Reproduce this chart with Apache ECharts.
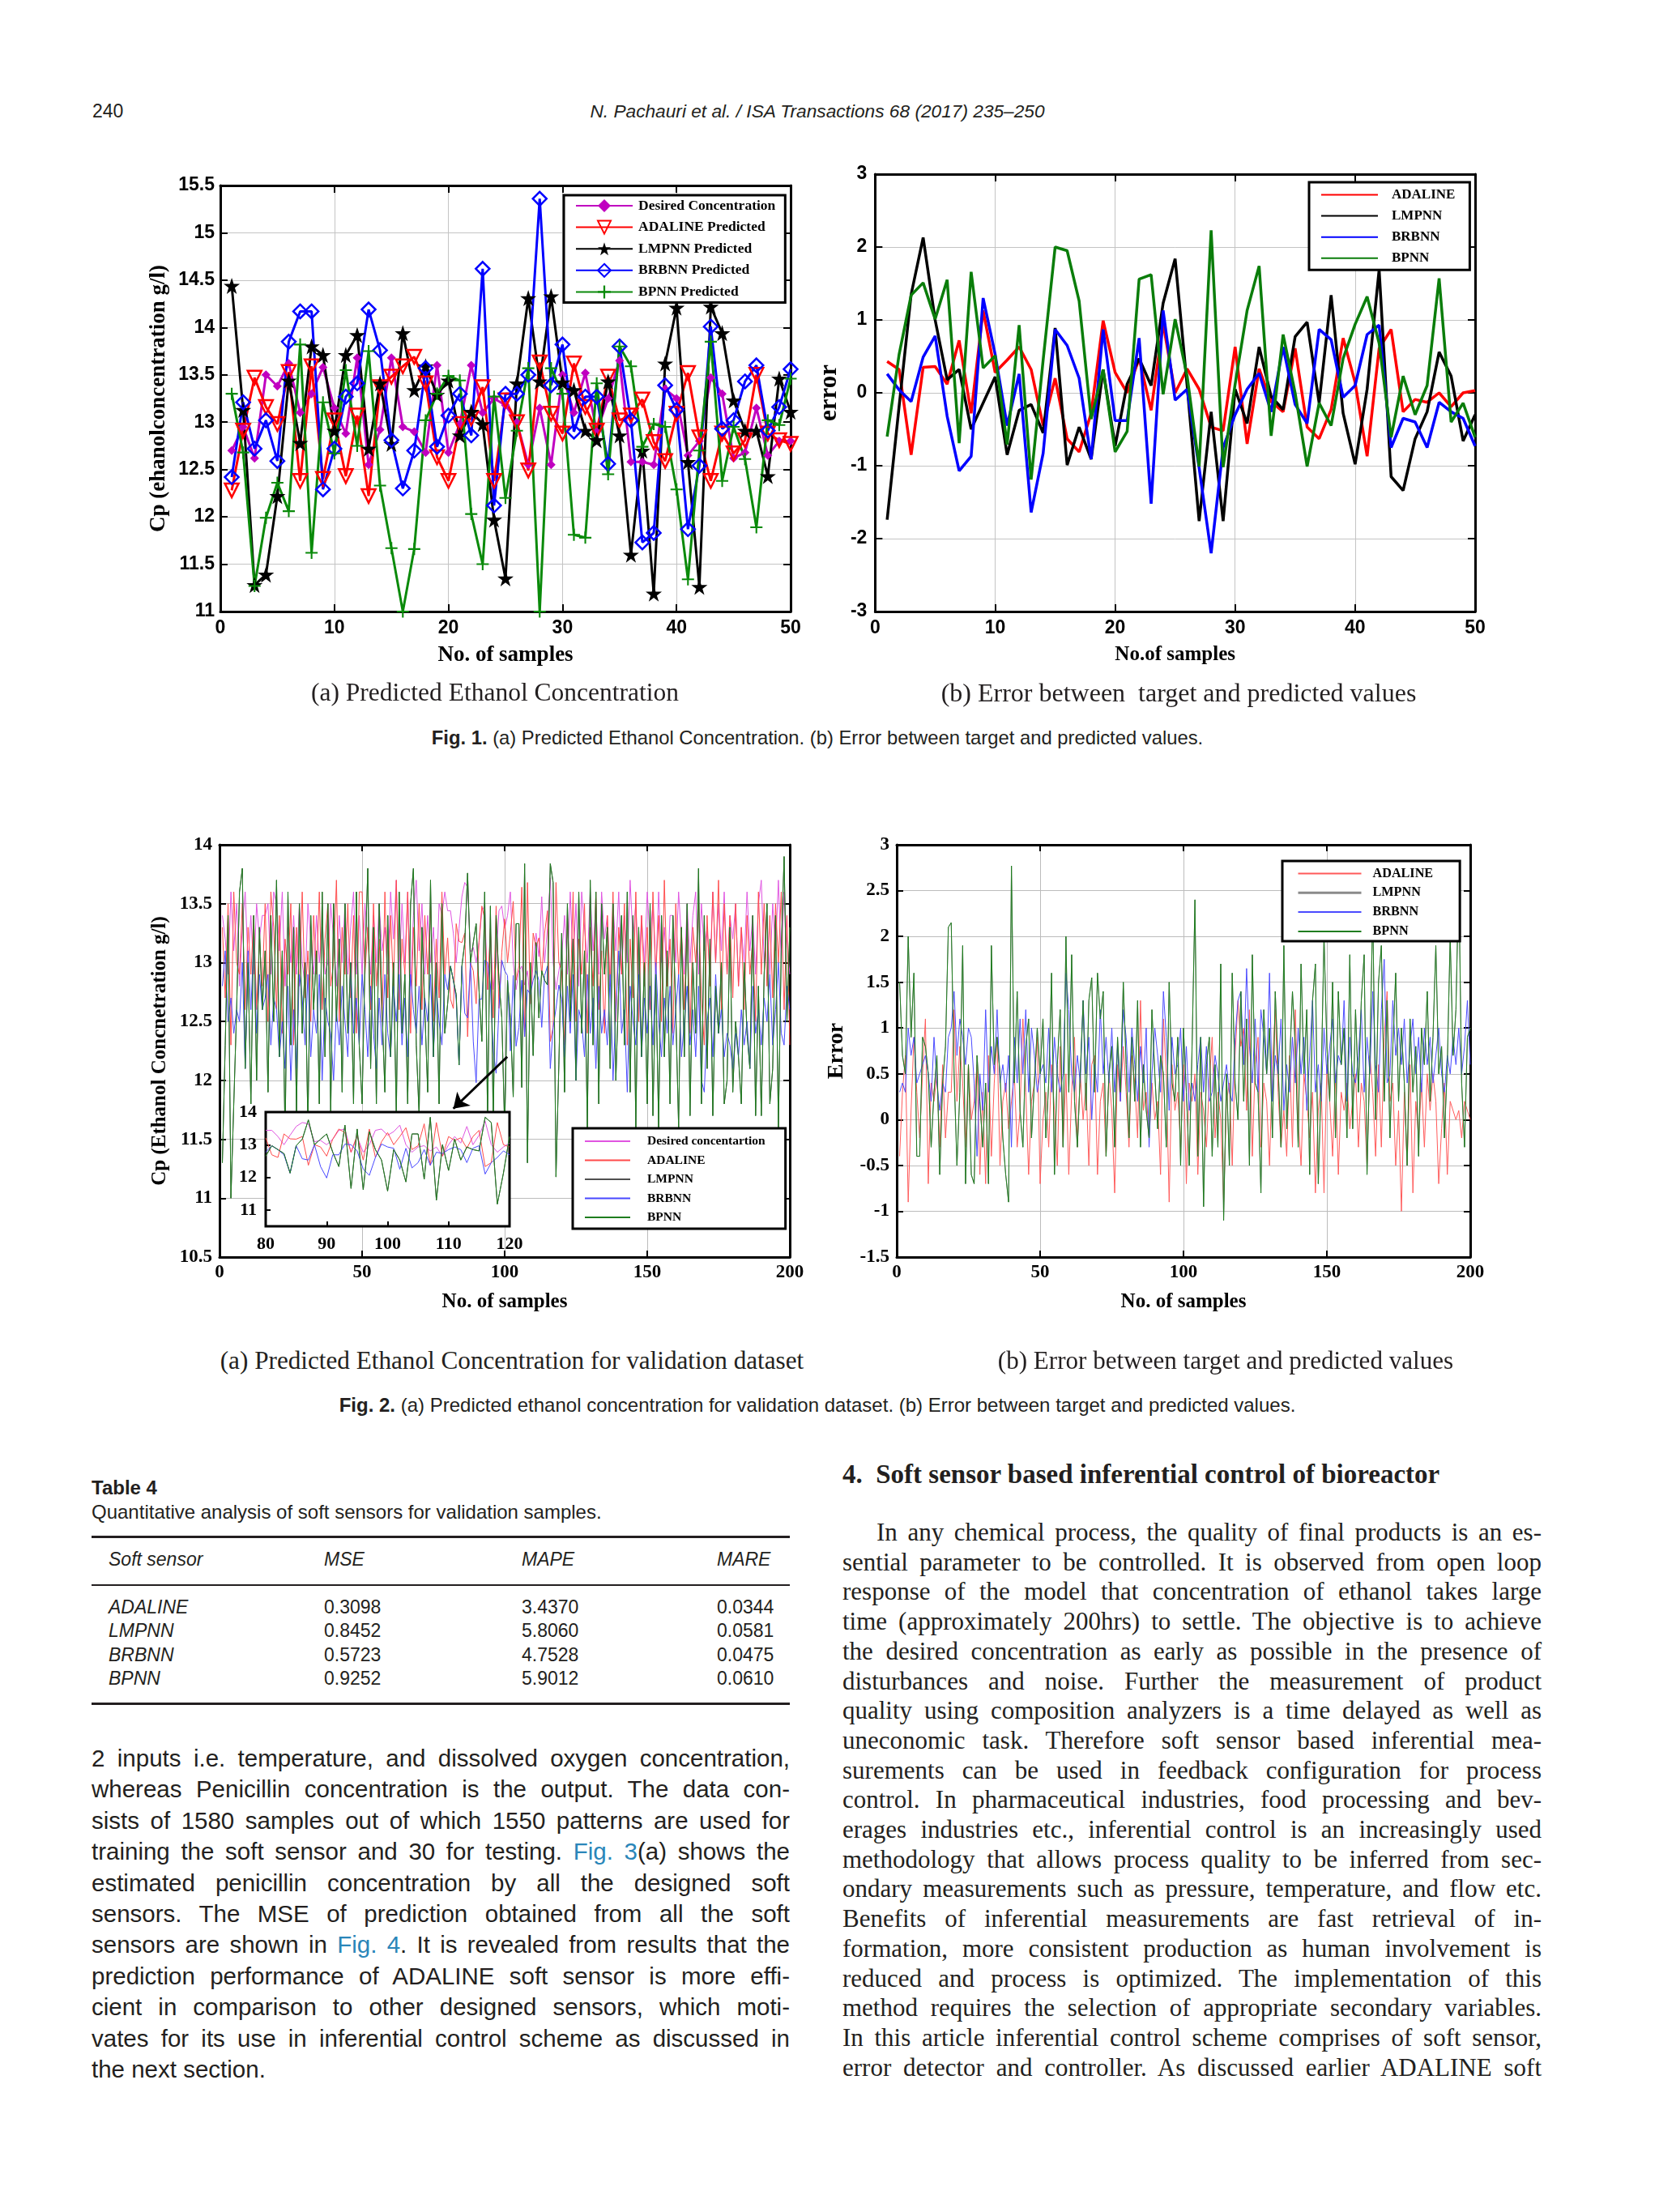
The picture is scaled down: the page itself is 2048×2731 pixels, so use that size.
<!DOCTYPE html>
<html><head><meta charset="utf-8">
<script src="https://cdn.jsdelivr.net/npm/echarts@6/dist/echarts.min.js"></script>
<style>
html,body{margin:0;padding:0;background:#fff;}
body{width:2048px;height:2731px;position:relative;overflow:hidden;color:#231f20;}
.chart{position:absolute;}
.t{position:absolute;white-space:nowrap;}
.sans{font-family:"Liberation Sans",Arial,Helvetica,sans-serif;}
.serif{font-family:"Liberation Serif","Times New Roman",Times,serif;}
.jl{position:absolute;text-align:justify;text-align-last:justify;}
.rule{position:absolute;left:113px;width:862px;background:#231f20;}
a{color:#2a86b9;text-decoration:none;}
</style></head><body>

<div class="t sans" style="left:114px;top:124px;font-size:23px;line-height:26px;">240</div>
<div class="t sans" style="left:0;width:2018px;text-align:center;top:124px;font-size:22.7px;line-height:26px;font-style:italic;">N. Pachauri et al. / ISA Transactions 68 (2017) 235–250</div>

<div id="c1a" class="chart" style="left:150px;top:190px;width:860px;height:660px"></div>
<div id="c1b" class="chart" style="left:1000px;top:190px;width:880px;height:660px"></div>

<div class="t serif" style="left:311px;width:600px;text-align:center;top:836px;font-size:31.5px;line-height:38px;">(a) Predicted Ethanol Concentration</div>
<div class="t serif" style="left:1105px;width:700px;text-align:center;top:836px;font-size:32px;line-height:38px;">(b) Error between&nbsp; target and predicted values</div>
<div class="t sans" style="left:309px;width:1400px;text-align:center;top:896px;font-size:23.8px;line-height:30px;"><b>Fig. 1.</b> (a) Predicted Ethanol Concentration. (b) Error between target and predicted values.</div>

<div id="c2a" class="chart" style="left:150px;top:1020px;width:860px;height:640px"></div>
<div id="c2ai" class="chart" style="left:280px;top:1357px;width:370px;height:210px"></div>
<div id="c2b" class="chart" style="left:1000px;top:1020px;width:880px;height:640px"></div>

<div class="t serif" style="left:232px;width:800px;text-align:center;top:1661px;font-size:31.2px;line-height:38px;">(a) Predicted Ethanol Concentration for validation dataset</div>
<div class="t serif" style="left:1163px;width:700px;text-align:center;top:1661px;font-size:31.1px;line-height:38px;">(b) Error between target and predicted values</div>
<div class="t sans" style="left:259px;width:1500px;text-align:center;top:1720px;font-size:24px;line-height:30px;"><b>Fig. 2.</b> (a) Predicted ethanol concentration for validation dataset. (b) Error between target and predicted values.</div>

<div class="t sans" style="left:113px;top:1823px;font-size:24px;line-height:28px;font-weight:bold;">Table 4</div>
<div class="t sans" style="left:113px;top:1853px;font-size:24px;line-height:28px;">Quantitative analysis of soft sensors for validation samples.</div>
<div class="rule" style="top:1896px;height:3px;"></div>
<div class="rule" style="top:1956px;height:2px;"></div>
<div class="rule" style="top:2102px;height:3px;"></div>
<div id="tbl"></div>

<div id="leftcol"></div>
<div class="t serif" style="left:1040px;top:1800px;font-size:33px;line-height:40px;font-weight:bold;">4.&nbsp; Soft sensor based inferential control of bioreactor</div>
<div id="rightcol"></div>

<script>
// ---------------- Table 4 ----------------
const tableHeader = ['Soft sensor', 'MSE', 'MAPE', 'MARE'];
const tableSensors = ['ADALINE', 'LMPNN', 'BRBNN', 'BPNN'];
const tableMSE  = ['0.3098', '0.8452', '0.5723', '0.9252'];
const tableMAPE = ['3.4370', '5.8060', '4.7528', '5.9012'];
const tableMARE = ['0.0344', '0.0581', '0.0475', '0.0610'];

// ---------------- Fig. 1 (50 samples) ----------------
const fig1Names = ['Desired Concentration', 'ADALINE Predicted', 'LMPNN Predicted', 'BRBNN Predicted', 'BPNN Predicted'];
const desired1 = [12.70,12.95,12.62,13.50,13.38,13.62,13.10,13.30,13.58,13.15,
  12.88,13.68,12.55,12.92,13.68,12.95,12.90,12.68,13.60,12.68,
  12.98,13.60,13.10,13.25,13.18,13.00,12.55,13.15,12.55,13.50,
  13.10,13.52,12.90,13.25,13.65,12.58,12.58,12.55,13.35,13.25,
  12.65,12.80,13.47,13.30,12.62,12.68,13.15,12.65,12.80,12.80];
const adaline1 = [12.28,12.91,13.47,13.16,12.98,13.53,12.38,13.59,12.40,13.02,
  12.43,13.07,12.22,13.37,13.48,13.59,13.69,13.41,12.63,12.38,
  12.98,13.04,13.37,12.38,13.23,13.00,12.49,13.63,13.09,12.88,
  13.62,13.16,12.91,13.48,13.02,13.07,13.24,12.79,12.59,13.09,
  13.52,12.84,12.38,12.88,12.67,12.81,13.50,12.88,12.81,12.77];
const lmpnn1 = [14.44,13.13,11.28,11.39,12.22,13.44,12.78,13.80,13.71,12.91,
  13.71,13.92,12.72,13.41,12.77,13.94,13.34,13.59,13.29,13.44,
  12.86,13.11,12.98,11.97,11.35,13.41,14.31,13.43,14.33,13.42,
  13.34,12.91,12.81,13.43,12.86,11.60,12.70,11.19,13.62,14.21,
  12.58,11.26,14.22,13.94,13.23,12.91,12.91,12.43,13.46,13.11];
const brbnn1 = [12.42,13.21,12.72,13.02,12.59,13.85,14.17,14.17,12.29,12.72,
  13.27,13.41,14.19,13.76,12.81,12.30,12.70,13.57,12.74,13.07,
  13.30,12.86,14.62,12.12,13.30,13.30,13.50,15.36,13.39,13.82,
  12.90,13.27,13.27,12.56,13.80,13.02,11.73,11.83,13.39,13.13,
  11.87,12.54,14.01,12.93,13.02,13.43,13.60,12.91,13.16,13.56];
const bpnn1 = [13.30,12.68,11.27,11.99,12.36,12.06,13.82,11.62,13.21,12.67,
  13.55,12.75,13.75,12.33,11.67,11.00,11.66,13.02,13.30,13.49,
  13.44,12.03,11.50,13.27,12.20,12.91,13.57,11.00,13.57,13.30,
  11.81,11.78,13.41,12.45,13.80,13.59,12.74,12.98,12.95,12.29,
  11.34,12.70,13.85,12.38,12.95,12.61,11.89,13.02,12.97,13.46];

const fig1bNames = ['ADALINE', 'LMPNN', 'BRBNN', 'BPNN'];
const errAdaline1 = [0.43,0.32,-0.85,0.35,0.36,0.12,0.72,-0.28,1.13,0.28,
  0.45,0.63,0.32,-0.45,0.20,-0.63,-0.81,-0.28,0.99,0.28,
  0.00,0.47,-0.24,0.95,0.00,0.33,0.05,-0.47,-0.52,0.63,
  -0.70,0.33,-0.12,-0.26,0.61,-0.47,-0.63,-0.23,0.75,0.14,
  -0.87,0.61,0.87,-0.26,-0.09,-0.13,0.00,-0.19,0.00,0.03];
const errLmpnn1 = [-1.74,-0.18,1.35,2.13,1.00,0.18,0.32,-0.50,-0.14,0.22,
  -0.85,-0.24,-0.16,-0.55,0.89,-0.99,-0.47,-0.91,0.32,-0.73,
  0.12,0.47,0.10,1.23,1.84,0.10,-1.76,-0.26,-1.76,0.05,
  -0.42,0.63,-0.05,-0.23,0.77,0.97,-0.14,1.34,-0.28,-0.98,
  0.05,1.69,-1.15,-1.34,-0.63,-0.26,0.56,0.23,-0.66,-0.30];
const errBrbnn1 = [0.26,0.04,-0.12,0.49,0.78,-0.32,-1.07,-0.87,1.30,0.53,
  -0.45,0.26,-1.64,-0.83,0.87,0.65,0.20,-0.91,0.87,-0.38,
  -0.38,0.75,-1.52,1.13,-0.10,0.05,-1.03,-2.20,-0.75,-0.30,
  0.05,0.27,-0.26,0.63,-0.16,-0.42,0.87,0.73,-0.06,0.10,
  0.80,0.93,-0.75,-0.35,-0.40,-0.75,-0.13,-0.26,-0.35,-0.73];
const errBpnn1 = [-0.60,0.53,1.34,1.51,1.01,1.55,-0.69,1.66,0.34,0.51,
  -0.71,0.93,-1.19,0.45,2.00,1.95,1.26,-0.36,0.32,-0.81,
  -0.53,1.56,1.62,-0.02,1.01,0.23,-1.01,2.23,-1.02,0.12,
  1.13,1.74,-0.59,0.80,0.00,-1.01,-0.14,-0.45,0.47,0.94,
  1.32,0.68,-0.61,0.23,-0.30,0.10,1.57,-0.40,-0.14,-0.61];

// ---------------- Fig. 2 (200 validation samples) ----------------
const fig2aNames = ['Desired concentartion', 'ADALINE', 'LMPNN', 'BRBNN', 'BPNN'];
const desired2 = [13.4,13.2,12.9,13.6,13.1,13.5,12.8,13.3,13.6,13.0,
  13.4,12.9,13.5,13.2,13.4,13.4,13.5,12.9,13.6,13.5,
  13.1,13.6,12.8,13.3,13.0,13.4,12.9,13.5,13.0,12.8,
  13.5,13.2,12.9,13.4,13.0,13.3,12.9,13.0,13.5,13.2,
  12.8,13.4,13.0,13.5,12.9,13.3,13.6,12.9,13.4,12.9,
  13.5,13.2,12.9,13.4,13.0,13.5,13.1,13.3,12.9,13.6,
  13.2,13.7,12.9,13.5,13.0,13.6,12.8,13.4,13.7,13.1,
  13.5,12.9,13.4,13.0,13.3,12.8,13.5,13.4,13.6,
  13.44,13.44,13.25,13.00,13.29,13.56,13.68,13.64,13.09,13.13,
  13.00,13.17,13.44,13.48,12.77,13.25,12.77,13.00,13.44,13.48,
  13.29,13.40,13.60,13.00,12.77,12.93,12.97,12.81,12.93,12.65,
  13.00,13.25,13.05,13.56,13.00,13.29,13.72,13.00,12.77,12.93,
  13.05,
  13.4,12.9,13.6,13.0,13.5,12.8,13.6,13.3,13.0,13.6,
  13.1,13.5,12.9,13.6,13.2,13.4,12.8,13.5,13.1,13.6,
  12.9,13.4,13.0,13.7,13.2,13.5,12.9,13.4,13.0,13.6,
  13.2,13.5,12.9,13.6,13.0,13.3,12.8,13.4,13.4,13.0,
  13.6,13.2,12.9,13.5,13.0,13.4,13.6,12.9,13.5,13.1,
  13.3,12.9,13.6,13.0,13.5,13.1,13.6,12.9,13.4,13.2,
  13.5,12.8,13.3,13.0,13.6,13.1,13.4,12.9,13.5,13.7,
  13.0,13.4,12.9,13.5,13.1,13.7,13.0,13.6,13.2,12.9];
const adaline2 = [13.3,12.7,13.5,12.3,13.6,13.0,12.9,13.5,12.6,13.3,
  12.9,13.4,12.6,13.2,12.8,13.5,12.5,13.6,13.3,12.6,
  13.4,12.4,13.2,12.9,13.5,12.3,13.3,12.8,13.6,12.7,
  13.1,12.5,13.4,12.9,13.6,12.6,13.2,13.5,12.8,13.0,
  13.7,12.5,13.3,12.9,13.5,12.7,13.4,12.4,13.6,13.6,
  12.9,13.3,12.6,13.5,12.8,13.2,12.5,13.6,12.7,13.4,
  12.8,13.7,12.6,13.2,12.9,13.6,12.4,13.3,12.8,13.5,
  12.6,13.4,12.9,13.5,12.5,13.2,12.7,13.6,12.9,
  13.21,12.69,12.61,13.33,13.18,13.17,13.25,12.37,13.00,12.93,
  12.65,13.17,13.48,13.37,12.77,13.29,12.53,13.48,12.61,13.09,
  13.37,13.00,13.25,13.52,12.85,12.97,13.64,12.37,13.68,12.65,
  13.25,13.13,13.21,12.89,13.25,13.44,12.33,12.45,13.68,13.00,
  12.93,
  12.3,13.4,12.7,13.6,12.5,13.2,12.9,13.5,12.4,13.3,
  12.8,13.6,12.6,13.1,12.4,13.4,12.8,13.6,12.5,13.3,
  12.9,13.5,12.3,13.2,12.7,13.6,12.5,13.4,12.8,13.3,
  12.6,13.6,12.9,13.4,12.5,13.7,12.8,13.2,12.4,13.5,
  12.9,13.3,12.6,13.4,12.4,13.3,13.0,13.5,12.7,12.3,
  13.4,12.8,13.6,13.0,13.7,12.6,13.5,12.9,13.4,12.7,
  13.5,12.8,13.3,12.6,13.4,12.9,13.2,12.5,13.6,12.9,
  13.5,12.8,13.4,12.7,13.5,13.0,13.6,12.6,13.4,12.3];
const brbnn2 = [12.8,13.1,12.5,12.7,12.4,12.6,12.5,13.0,12.1,13.1,
  12.6,13.2,12.4,12.9,12.6,12.7,12.9,12.3,12.7,12.6,
  12.2,12.5,12.1,12.8,12.0,12.6,12.1,12.9,12.7,12.3,
  12.9,12.2,12.6,12.4,12.9,12.0,12.7,12.5,12.4,12.0,
  12.6,12.3,12.8,12.5,12.2,13.0,12.4,12.7,12.3,12.9,
  12.6,12.2,12.8,12.4,12.1,12.7,12.3,12.9,12.4,12.2,
  12.8,12.5,12.9,12.3,12.7,12.2,12.9,12.6,12.4,12.8,
  12.3,12.7,12.5,12.9,12.2,12.8,12.5,12.3,12.9,
  12.77,12.97,12.85,12.69,12.13,12.97,12.57,12.53,13.00,12.33,
  11.98,12.69,12.69,13.02,13.00,12.81,12.25,12.06,12.61,13.02,
  12.93,12.89,12.25,12.89,12.29,12.45,12.85,12.37,12.77,12.73,
  12.85,12.93,12.85,12.45,12.89,12.97,12.10,12.45,12.61,12.81,
  12.69,
  12.2,12.8,12.4,12.9,12.0,12.6,12.5,12.2,12.9,12.4,
  12.7,12.1,12.8,12.4,12.6,12.3,12.9,12.0,12.6,13.1,
  12.4,12.6,11.9,12.8,12.5,12.3,12.9,12.2,12.7,12.4,
  12.8,12.3,13.0,12.5,12.2,12.7,12.4,12.8,12.3,12.6,
  12.9,12.2,12.5,12.8,12.3,12.6,12.2,12.8,12.0,11.9,
  12.5,12.7,12.2,12.9,12.4,12.6,12.2,12.4,12.3,12.1,
  12.4,12.2,12.6,12.3,12.5,12.1,12.8,12.4,12.6,12.3,
  12.7,12.5,12.9,12.3,12.6,13.0,12.4,12.3,12.8,12.6];
const bpnn2 = [11.3,12.3,13.4,11.0,11.8,12.6,13.6,13.8,12.1,13.0,
  11.8,13.4,12.0,13.3,12.6,13.1,11.9,13.4,12.5,13.7,
  12.2,13.1,11.5,13.6,12.3,13.3,11.7,13.5,12.4,13.0,
  11.6,13.4,12.6,13.1,11.8,13.6,12.2,13.5,11.7,13.5,
  12.5,13.2,11.9,13.5,12.4,13.0,11.8,13.6,12.3,11.8,
  13.0,13.8,12.1,13.3,11.8,13.5,12.6,11.9,13.4,12.2,
  13.0,11.7,13.6,12.4,12.9,11.8,13.5,13.8,12.3,11.7,
  13.3,12.6,11.9,13.7,12.2,13.0,11.8,13.5,12.4,
  12.65,12.97,12.85,12.73,12.13,12.97,13.17,13.76,13.00,13.17,
  13.33,12.77,12.33,13.60,11.66,13.48,11.62,13.40,12.85,12.53,
  11.58,12.85,12.53,11.86,13.33,13.33,11.94,13.84,11.30,13.00,
  12.21,13.17,12.53,12.93,12.85,12.81,13.84,13.68,11.18,12.13,
  13.25,
  11.9,13.5,12.5,13.2,12.0,13.6,12.4,13.1,11.6,13.7,
  12.3,13.6,11.8,13.5,12.9,13.3,12.1,13.5,12.0,12.8,
  13.4,12.3,13.6,11.9,13.4,11.6,13.3,12.2,13.0,11.8,
  13.5,11.7,12.9,11.6,13.4,12.2,13.1,11.8,13.4,12.6,
  11.6,13.3,12.2,13.5,11.7,13.0,12.4,13.8,11.8,13.4,
  12.1,13.2,11.7,12.8,12.4,13.0,11.8,12.0,13.3,11.9,
  12.5,12.2,11.8,13.0,12.4,12.1,13.4,11.7,12.8,11.7,
  12.9,13.5,11.8,12.1,13.4,11.6,13.1,13.9,12.5,13.3];
// In the figure the LMPNN trace lies under the BPNN trace and is not separately visible.
const lmpnn2 = bpnn2;

const fig2bNames = ['ADALINE', 'LMPNN', 'BRBNN', 'BPNN'];
const errAdaline2 = [-0.4,0.3,0.7,-0.9,0.1,0.9,0.3,-0.2,0.5,1.1,
  -0.7,0.4,0.2,0.5,-0.3,0.6,-0.2,0.3,0.3,1.2,
  0.2,0.8,0.4,-0.3,0.6,0.0,0.2,0.6,-0.6,0.3,
  -0.7,0.7,-0.4,0.4,0.9,-0.5,0.2,0.4,-0.1,0.2,
  0.5,-0.3,0.1,1.1,0.3,-0.6,0.2,0.4,0.9,-0.7,
  0.0,0.3,-0.3,0.6,0.1,-0.5,0.8,-0.3,0.5,-0.6,
  0.3,0.9,-0.3,0.5,0.0,0.4,-0.5,0.6,0.7,-0.6,
  0.2,0.4,-0.4,0.5,0.1,-0.8,0.6,0.2,0.8,0.3,
  -0.3,0.7,0.4,-0.2,1.3,0.1,0.3,-0.2,0.4,0.0,
  0.2,-0.6,1.1,0.5,-0.9,0.6,0.1,0.3,-0.3,0.6,
  -0.7,0.4,0.2,0.5,-0.6,0.3,0.1,-0.3,0.4,0.9,
  -0.2,0.3,0.0,-0.9,0.2,0.4,-0.5,0.7,1.3,0.8,
  1.0,0.1,1.2,-0.4,0.6,0.9,-0.3,0.4,0.2,-0.5,
  0.6,1.2,0.3,-0.3,0.1,-0.4,0.7,-0.3,1.2,0.0,
  -0.5,0.5,0.2,-0.2,0.3,-0.8,0.1,0.4,-0.8,0.6,
  0.2,-0.4,0.5,-0.6,0.3,0.1,0.4,-0.1,0.2,0.5,
  -0.3,0.4,0.2,-0.5,0.7,0.3,-0.4,0.6,-0.3,0.9,
  1.4,0.2,0.4,-0.5,0.1,-1.0,0.3,-0.5,0.6,-0.8,
  0.2,-0.2,0.4,-0.3,0.5,0.1,0.5,0.2,-0.7,-0.1,
  0.4,-0.6,0.2,0.1,0.0,0.1,-0.2,0.2,0.1,0.0];
const errBrbnn2 = [0.3,0.4,0.3,1.0,0.7,0.9,0.4,0.5,0.6,0.7,
  0.5,0.2,0.9,0.4,0.1,0.4,0.3,0.9,1.0,1.4,
  0.7,1.1,0.9,0.6,1.0,0.9,0.4,-0.4,0.5,0.1,
  1.2,0.3,0.8,0.5,1.2,0.4,0.6,0.3,0.7,-0.3,
  0.9,0.4,1.1,0.5,1.2,0.3,1.0,0.7,0.3,0.5,
  0.6,0.4,1.0,0.3,0.9,0.5,0.3,0.5,1.6,1.2,
  0.5,0.3,0.7,0.4,1.3,0.5,0.9,0.0,0.6,0.3,
  1.2,0.5,0.9,0.4,1.0,0.3,0.8,0.2,1.2,0.9,
  0.3,1.0,0.6,0.2,0.8,0.4,1.0,-0.3,0.5,1.0,
  0.7,0.3,1.4,0.9,0.1,0.9,0.5,0.6,1.0,0.2,
  0.8,0.1,0.4,0.2,0.6,0.9,0.3,0.8,0.2,0.3,
  0.7,0.5,0.2,0.4,0.6,0.3,0.2,0.9,1.3,1.4,
  0.6,1.65,0.8,0.4,1.1,0.3,1.2,0.9,0.5,1.6,
  0.2,0.7,0.5,1.1,0.1,0.6,0.3,0.9,0.4,1.0,
  0.5,0.9,0.1,0.7,1.3,0.3,0.6,0.2,1.0,0.5,
  0.8,1.1,0.4,0.7,0.6,1.3,0.2,0.9,0.5,0.4,
  0.7,1.2,0.3,0.9,0.5,1.4,0.6,0.3,1.2,1.75,
  0.4,0.5,1.3,0.7,1.0,0.6,1.1,0.4,0.8,1.1,
  0.5,0.9,0.3,1.0,0.6,0.9,0.4,0.7,1.0,0.5,
  0.3,0.7,0.5,0.9,0.6,1.0,0.5,0.8,1.3,0.6];
const errBpnn2 = [1.5,0.7,0.5,2.0,0.9,1.6,-0.4,-0.4,0.9,0.8,
  0.5,-0.3,0.3,0.7,-0.6,0.4,0.8,2.1,2.15,0.5,
  -0.5,0.3,1.9,-0.7,0.6,-0.6,-0.7,0.7,0.2,-0.3,
  0.4,-0.7,1.9,0.6,0.9,0.5,-0.2,-0.6,-0.9,2.77,
  0.4,1.4,0.1,-0.3,0.8,1.1,-0.2,0.4,1.0,0.5,
  1.1,-0.2,0.4,1.6,-0.6,0.6,1.2,-0.3,2.0,0.3,
  1.8,0.2,-0.3,0.5,1.3,0.1,1.3,1.55,0.3,1.6,
  1.1,1.4,-0.4,0.5,0.8,-0.3,0.9,0.3,1.5,0.6,
  -0.2,0.9,0.2,1.3,-0.3,0.6,0.1,-0.2,1.2,0.5,
  -0.1,0.7,0.5,-0.3,1.5,0.4,0.2,0.9,-0.5,1.0,
  0.3,-0.5,0.8,2.4,-0.4,0.9,-0.95,0.6,0.9,-0.4,
  0.6,-0.3,1.7,-1.1,0.5,-0.5,1.6,0.4,0.0,1.4,
  0.2,1.1,-0.5,1.8,0.4,0.3,-0.8,1.2,0.5,1.0,
  -0.2,1.4,0.6,-0.3,1.9,-0.1,0.6,1.4,0.8,-0.3,
  1.7,0.5,1.2,-0.6,1.3,1.7,-0.7,0.4,2.0,0.8,
  0.2,1.5,-0.2,1.4,0.6,1.0,-0.2,1.8,-0.1,1.2,
  0.3,1.3,1.8,-0.6,0.7,2.3,0.0,1.5,1.9,0.2,
  1.3,-0.2,0.8,1.6,0.2,1.0,0.4,-0.5,1.1,0.3,
  0.8,-0.4,1.0,0.6,1.4,0.2,0.9,1.9,0.5,0.8,
  -0.2,0.6,2.0,0.7,1.2,2.65,0.4,-0.3,0.9,1.0];
const errLmpnn2 = errBpnn2;

// Inset of Fig. 2(a): samples 80..120, arrow annotation (data coords)
const insetRange = [80, 120];
const arrowFrom = [100.9, 12.20];
const arrowTo = [82.0, 11.76];

// ---------------- helpers ----------------
const SANS = '"Liberation Sans", Arial, Helvetica, sans-serif';
const SERIF = '"Liberation Serif", "Times New Roman", Times, serif';
function pts(vals, x0) { return vals.map((v, i) => [x0 + i, v]); }

function frame(c) {
  const lab = {color: '#000', fontFamily: c.lf, fontWeight: 'bold', fontSize: c.ls, showMinLabel: true, showMaxLabel: true};
  const axLine = {show: true, onZero: false, lineStyle: {color: '#000', width: c.aw}};
  const tick = {show: true, inside: true, length: c.tl, lineStyle: {color: '#000', width: 2}};
  const split = {show: true, lineStyle: {color: c.sc || '#c4c4c4', width: 1}};
  const nameStyle = {color: '#000', fontFamily: SERIF, fontWeight: 'bold'};
  return {
    xAxis: [
      {type: 'value', min: c.x[0], max: c.x[1], interval: c.x[2], axisLine: axLine, axisTick: tick, splitLine: split,
       axisLabel: Object.assign({margin: c.xm}, lab), name: c.xn, nameLocation: 'middle', nameGap: c.xg,
       nameTextStyle: Object.assign({fontSize: c.xns}, nameStyle)},
      {type: 'value', position: 'top', min: c.x[0], max: c.x[1], interval: c.x[2], axisLine: axLine, axisTick: tick,
       splitLine: {show: false}, axisLabel: {show: false}}
    ],
    yAxis: [
      {type: 'value', min: c.y[0], max: c.y[1], interval: c.y[2], axisLine: axLine, axisTick: tick, splitLine: split,
       axisLabel: Object.assign({margin: c.ym}, lab), name: c.yn, nameLocation: 'middle', nameGap: c.yg,
       nameTextStyle: Object.assign({fontSize: c.yns}, nameStyle)},
      {type: 'value', position: 'right', min: c.y[0], max: c.y[1], interval: c.y[2], axisLine: axLine, axisTick: tick,
       splitLine: {show: false}, axisLabel: {show: false}}
    ]
  };
}

function legendBox(o) {
  const lg = {
    orient: 'vertical', left: o.left, top: o.top, padding: o.padding, itemGap: o.gap,
    itemWidth: o.iw, itemHeight: o.ih, borderColor: '#000', borderWidth: 3, backgroundColor: '#fff',
    selectedMode: false, data: o.data,
    textStyle: {fontFamily: SERIF, fontWeight: 'bold', fontSize: o.fs, color: '#000', padding: [0, 0, 0, o.tp || 0]}
  };
  if (o.noMarker) lg.itemStyle = {opacity: 0};
  return lg;
}

// ---------------- Fig 1(a) ----------------
const STAR = 'path://M50,2 L61.8,37.6 L99,37.6 L68.9,59.5 L80.4,95.1 L50,73 L19.6,95.1 L31.1,59.5 L1,37.6 L38.2,37.6 Z';
const PLUS = 'path://M43,0 H57 V43 H100 V57 H57 V100 H43 V57 H0 V43 H43 Z';
function mk1(name, vals, color, symbol, size, hollow, rot) {
  return {
    name, type: 'line', data: pts(vals, 1), symbol, symbolSize: size, symbolRotate: rot || 0,
    showAllSymbol: true, color: color, silent: true, emphasis: {disabled: true},
    lineStyle: {color, width: 3},
    itemStyle: hollow ? {color: 'rgba(255,255,255,0)', borderColor: color, borderWidth: 2.5} : {color, borderWidth: 0}
  };
}
const c1a = echarts.init(document.getElementById('c1a'));
c1a.setOption(Object.assign({
  animation: false,
  grid: {left: 122, top: 39, width: 704, height: 526},
  legend: legendBox({left: 546, top: 51, padding: [4, 12, 4, 14], gap: 8.6, iw: 70, ih: 20, fs: 17.5, tp: 2, data: fig1Names}),
  series: [
    mk1(fig1Names[0], desired1, '#c000c0', 'diamond', 11, false),
    mk1(fig1Names[1], adaline1, '#ff0000', 'triangle', 17, true, 180),
    mk1(fig1Names[2], lmpnn1, '#000000', STAR, 20, false),
    mk1(fig1Names[3], brbnn1, '#0000ff', 'diamond', 17, true),
    mk1(fig1Names[4], bpnn1, '#0a8a0a', PLUS, 15, false)
  ]
}, frame({x: [0, 50, 10], y: [11, 15.5, 0.5], lf: SANS, ls: 23, aw: 3, tl: 9, xm: 9, ym: 7,
  xn: 'No. of samples', xg: 41, xns: 27, yn: 'Cp (ehanolconcentration g/l)', yg: 61, yns: 27})));

// ---------------- Fig 1(b) ----------------
function mkL(name, vals, color, width, x0) {
  return {name, type: 'line', data: pts(vals, x0), symbol: 'none', color, silent: true,
    emphasis: {disabled: true}, lineStyle: {color, width}};
}
const c1b = echarts.init(document.getElementById('c1b'));
c1b.setOption(Object.assign({
  animation: false,
  grid: {left: 80, top: 25, width: 741, height: 540},
  legend: legendBox({left: 616, top: 35, padding: [7, 18, 6, 14], gap: 9.1, iw: 70, ih: 16, fs: 17, tp: 12, noMarker: true, data: fig1bNames}),
  series: [
    mkL('ADALINE', errAdaline1, '#ff0000', 3.5, 1),
    mkL('LMPNN', errLmpnn1, '#000000', 3.5, 1),
    mkL('BRBNN', errBrbnn1, '#0000ff', 3.5, 1),
    mkL('BPNN', errBpnn1, '#0a7d0a', 3.5, 1)
  ]
}, frame({x: [0, 50, 10], y: [-3, 3, 1], lf: SANS, ls: 23, aw: 3, tl: 9, xm: 9, ym: 10,
  xn: 'No.of samples', xg: 41, xns: 25, yn: 'error', yg: 35, yns: 31})));

// ---------------- Fig 2(a) ----------------
const col2 = {des: '#e055e0', ada: '#ff4a4a', lmp: '#505050', brb: '#4848ff', bp: '#1f7d1f'};
const c2a = echarts.init(document.getElementById('c2a'));
const s2a = [
  mkL(fig2aNames[0], desired2, col2.des, 1, 1),
  mkL(fig2aNames[1], adaline2, col2.ada, 1, 1),
  mkL(fig2aNames[2], lmpnn2, col2.lmp, 1, 1),
  mkL(fig2aNames[3], brbnn2, col2.brb, 1, 1),
  mkL(fig2aNames[4], bpnn2, col2.bp, 1, 1)
];
s2a[0].markLine = {silent: true, symbol: ['none', 'arrow'], symbolSize: 18, label: {show: false},
  lineStyle: {color: '#000', width: 3, type: 'solid'},
  data: [[{coord: arrowFrom}, {coord: arrowTo}]]};
c2a.setOption(Object.assign({
  animation: false,
  grid: {left: 121, top: 23, width: 704, height: 509},
  legend: legendBox({left: 557, top: 373, padding: [8, 25, 6, 14], gap: 7.5, iw: 56, ih: 14, fs: 15.5, tp: 16, noMarker: true, data: fig2aNames}),
  series: s2a
}, frame({x: [0, 200, 50], y: [10.5, 14, 0.5], lf: SERIF, ls: 23, aw: 3, tl: 8, xm: 8, ym: 9, sc: '#bcbcbc',
  xn: 'No. of samples', xg: 43.5, xns: 25, yn: 'Cp (Ethanol Concnetration g/l)', yg: 61, yns: 25})));

// inset
const c2ai = echarts.init(document.getElementById('c2ai'));
const i0 = insetRange[0] - 1, i1 = insetRange[1];
function mkI(vals, color) {
  return {type: 'line', data: pts(vals.slice(i0, i1), insetRange[0]), symbol: 'none', silent: true,
    emphasis: {disabled: true}, lineStyle: {color, width: 1}};
}
const insetTick = {show: true, inside: true, length: 6, lineStyle: {color: '#000', width: 2}};
const insetLab = {color: '#000', fontFamily: SERIF, fontWeight: 'bold', fontSize: 22, showMinLabel: true, showMaxLabel: true};
c2ai.setOption({
  animation: false,
  grid: {left: 48, top: 16, width: 301, height: 141, show: true, backgroundColor: '#fff', borderColor: '#000', borderWidth: 3},
  xAxis: [{type: 'value', min: 80, max: 120, interval: 10, axisLine: {show: false, onZero: false}, axisTick: insetTick,
    splitLine: {show: false}, axisLabel: Object.assign({margin: 11}, insetLab)}],
  yAxis: [{type: 'value', min: 10.5, max: 14, interval: 0.5, axisLine: {show: false, onZero: false},
    axisTick: Object.assign({customValues: [11, 12, 13, 14]}, insetTick), splitLine: {show: false},
    axisLabel: Object.assign({margin: 11, customValues: [11, 12, 13, 14], formatter: v => (Number.isInteger(v) ? String(v) : '')}, insetLab)}],
  series: [mkI(desired2, col2.des), mkI(adaline2, col2.ada), mkI(lmpnn2, col2.lmp), mkI(brbnn2, col2.brb), mkI(bpnn2, col2.bp)]
});

// ---------------- Fig 2(b) ----------------
const c2b = echarts.init(document.getElementById('c2b'));
const lmpLeg = mkL('LMPNN', errLmpnn2, '#8a8a8a', 1, 1);
c2b.setOption(Object.assign({
  animation: false,
  grid: {left: 107, top: 23, width: 708, height: 509},
  legend: legendBox({left: 583, top: 43, padding: [7.5, 33, 4, 18], gap: 7.8, iw: 78, ih: 14, fs: 16.2, tp: 9, noMarker: true, data: [
    {name: 'ADALINE'}, {name: 'LMPNN', lineStyle: {width: 3, color: '#8a8a8a'}}, {name: 'BRBNN'}, {name: 'BPNN'}]}),
  series: [
    mkL('ADALINE', errAdaline2, '#ff5a5a', 1, 1),
    lmpLeg,
    mkL('BRBNN', errBrbnn2, '#4a4aff', 1, 1),
    mkL('BPNN', errBpnn2, '#1f7d1f', 1, 1)
  ]
}, frame({x: [0, 200, 50], y: [-1.5, 3, 0.5], lf: SERIF, ls: 23, aw: 3, tl: 8, xm: 8, ym: 9, sc: '#bcbcbc',
  xn: 'No. of samples', xg: 43.5, xns: 25, yn: 'Error', yg: 60, yns: 28})));

// ---------------- table & body text ----------------
(function () {
  const tb = document.getElementById('tbl');
  const colX = [134, 400, 644, 885];
  function cell(txt, x, yc, italic) {
    const d = document.createElement('div');
    d.className = 't sans';
    d.style.cssText = 'left:' + x + 'px;top:' + (yc - 14) + 'px;font-size:23px;line-height:28px;' + (italic ? 'font-style:italic;' : '');
    d.textContent = txt;
    tb.appendChild(d);
  }
  tableHeader.forEach((h, i) => cell(h, colX[i], 1925, true));
  const rowY = [1984, 2013, 2043, 2072];
  tableSensors.forEach((s, r) => {
    cell(s, colX[0], rowY[r], true);
    cell(tableMSE[r], colX[1], rowY[r]);
    cell(tableMAPE[r], colX[2], rowY[r]);
    cell(tableMARE[r], colX[3], rowY[r]);
  });

  const leftLines = [
    '2 inputs i.e. temperature, and dissolved oxygen concentration,',
    'whereas Penicillin concentration is the output. The data con-',
    'sists of 1580 samples out of which 1550 patterns are used for',
    'training the soft sensor and 30 for testing. <a>Fig. 3</a>(a) shows the',
    'estimated penicillin concentration by all the designed soft',
    'sensors. The MSE of prediction obtained from all the soft',
    'sensors are shown in <a>Fig. 4</a>. It is revealed from results that the',
    'prediction performance of ADALINE soft sensor is more effi-',
    'cient in comparison to other designed sensors, which moti-',
    'vates for its use in inferential control scheme as discussed in',
    'the next section.'
  ];
  const lc = document.getElementById('leftcol');
  leftLines.forEach((ln, i) => {
    const d = document.createElement('div');
    d.className = 'jl sans';
    const yc = 2171 + i * 38.4;
    d.style.cssText = 'left:113px;width:862px;top:' + (yc - 18) + 'px;font-size:29.5px;line-height:36px;' +
      (i === leftLines.length - 1 ? 'text-align-last:left;' : '');
    d.innerHTML = ln;
    lc.appendChild(d);
  });

  const rightLines = [
    'In any chemical process, the quality of final products is an es-',
    'sential parameter to be controlled. It is observed from open loop',
    'response of the model that concentration of ethanol takes large',
    'time (approximately 200hrs) to settle. The objective is to achieve',
    'the desired concentration as early as possible in the presence of',
    'disturbances and noise. Further the measurement of product',
    'quality using composition analyzers is a time delayed as well as',
    'uneconomic task. Therefore soft sensor based inferential mea-',
    'surements can be used in feedback configuration for process',
    'control. In pharmaceutical industries, food processing and bev-',
    'erages industries etc., inferential control is an increasingly used',
    'methodology that allows process quality to be inferred from sec-',
    'ondary measurements such as pressure, temperature, and flow etc.',
    'Benefits of inferential measurements are fast retrieval of in-',
    'formation, more consistent production as human involvement is',
    'reduced and process is optimized. The implementation of this',
    'method requires the selection of appropriate secondary variables.',
    'In this article inferential control scheme comprises of soft sensor,',
    'error detector and controller. As discussed earlier ADALINE soft'
  ];
  const rc = document.getElementById('rightcol');
  rightLines.forEach((ln, i) => {
    const d = document.createElement('div');
    d.className = 'jl serif';
    const yc = 1892 + i * 36.7;
    const left = i === 0 ? 1082 : 1040;
    d.style.cssText = 'left:' + left + 'px;width:' + (1903 - left) + 'px;top:' + (yc - 18) + 'px;font-size:31px;line-height:36px;';
    d.textContent = ln;
    rc.appendChild(d);
  });
})();
</script>
</body></html>
